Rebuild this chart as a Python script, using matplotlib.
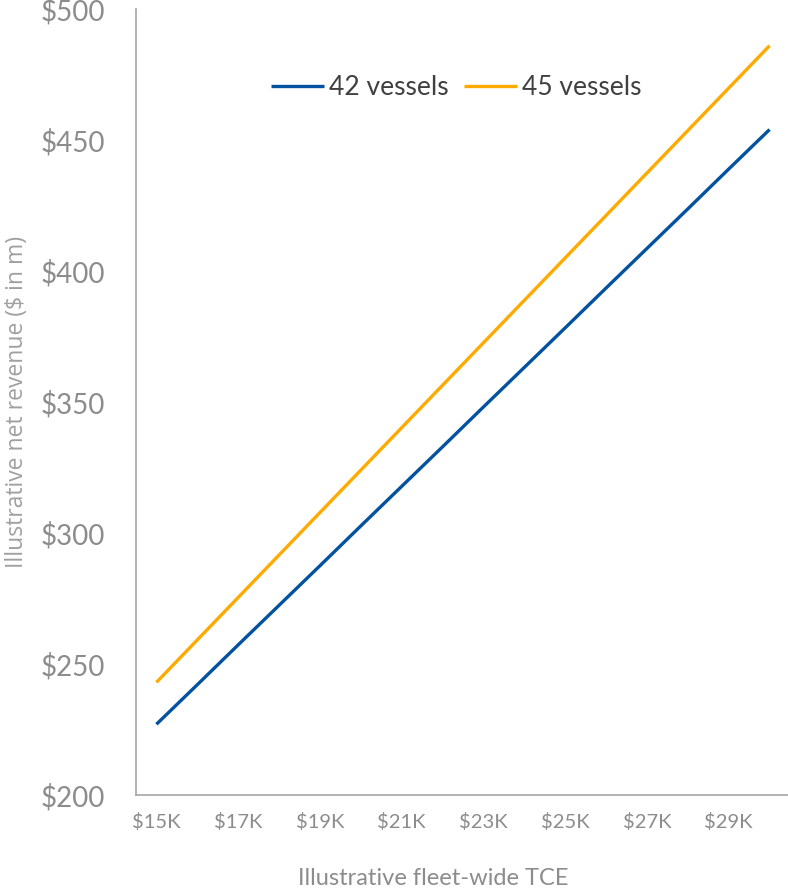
import matplotlib
matplotlib.use("Agg")
import matplotlib.pyplot as plt
from matplotlib.ticker import FixedLocator

tce_k = [15, 16, 17, 18, 19, 20, 21, 22, 23, 24, 25, 26, 27, 28, 29, 30]
rev_42 = [227.0, 242.1, 257.3, 272.4, 287.5, 302.7, 317.8, 332.9, 348.1, 363.2,
          378.3, 393.5, 408.6, 423.7, 438.9, 454.0]
rev_45 = [243.0, 259.2, 275.4, 291.6, 307.8, 324.0, 340.2, 356.4, 372.6, 388.8,
          405.0, 421.2, 437.4, 453.6, 469.8, 486.0]
x_ticks = [15, 17, 19, 21, 23, 25, 27, 29]
x_labels = ["$15K", "$17K", "$19K", "$21K", "$23K", "$25K", "$27K", "$29K"]
y_ticks = [200, 250, 300, 350, 400, 450, 500]
y_labels = ["$200", "$250", "$300", "$350", "$400", "$450", "$500"]

fig = plt.figure(figsize=(7.88, 8.88), dpi=100)
ax = fig.add_axes([136/788, 1 - 795/888, (790-136)/788, (795-9)/888])

ax.plot(tce_k, rev_42, color="#0352A0", lw=2.4, label="42 vessels", solid_capstyle="butt")
ax.plot(tce_k, rev_45, color="#FFAA00", lw=2.4, label="45 vessels", solid_capstyle="butt")

ax.set_xlim(14.5, 30.5)
ax.set_ylim(200, 500)
ax.xaxis.set_major_locator(FixedLocator(x_ticks))
ax.set_xticklabels(x_labels, fontfamily="Lato", fontsize=14.5, color="#8c8c8c")
ax.yaxis.set_major_locator(FixedLocator(y_ticks))
ax.set_yticklabels(y_labels, fontfamily="Lato", fontsize=20, color="#8c8c8c")
ax.tick_params(axis="both", length=0)
ax.tick_params(axis="x", pad=13)
ax.tick_params(axis="y", pad=22)

for s in ["top", "right"]:
    ax.spines[s].set_visible(False)
for s in ["left", "bottom"]:
    ax.spines[s].set_color("#a6a6a6")
    ax.spines[s].set_linewidth(1.2)

ax.set_xlabel("Illustrative fleet-wide TCE", fontfamily="Lato", fontsize=17, color="#8c8c8c")
ax.xaxis.set_label_coords((433-136)/654, -(868-795)/786)
ax.set_ylabel("Illustrative net revenue ($ in m)", fontfamily="Open Sans", fontsize=16.5, color="#a0a0a0")
ax.yaxis.set_label_coords(-(136-29)/654, (795-402)/786)

leg = ax.legend(loc="center", bbox_to_anchor=(0.49, 0.90), ncol=2, frameon=False,
                prop={"family": "Lato", "size": 19}, handlelength=2.0, handletextpad=0.2,
                columnspacing=0.6)
for t in leg.get_texts():
    t.set_color("#404040")

fig.savefig("out.png", dpi=100)
